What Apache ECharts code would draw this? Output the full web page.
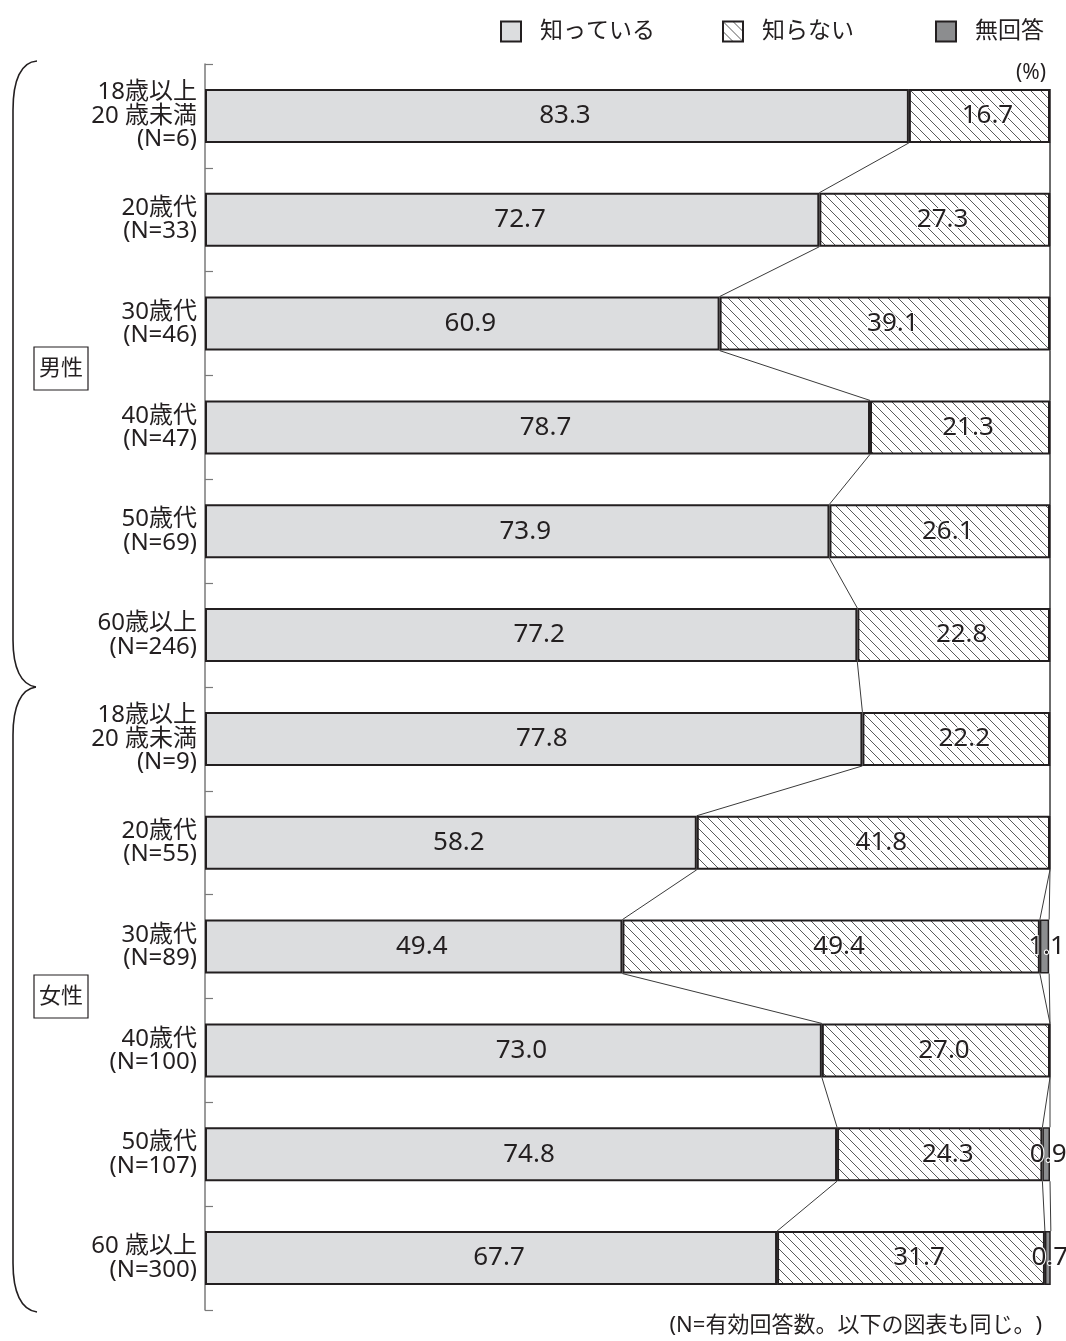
<!DOCTYPE html>
<html>
<head>
<meta charset="utf-8">
<script src="https://cdn.jsdelivr.net/npm/echarts@6/dist/echarts.min.js"></script>
<style>
html,body{margin:0;padding:0;background:#fff;}
#chart{width:1066px;height:1341px;}
</style>
</head>
<body>
<div id="chart"></div>
<script>
// Row labels (top to bottom): men then women by age group
const categories = [
  '18歳以上\n20 歳未満\n(N=6)',
  '20歳代\n(N=33)',
  '30歳代\n(N=46)',
  '40歳代\n(N=47)',
  '50歳代\n(N=69)',
  '60歳以上\n(N=246)',
  '18歳以上\n20 歳未満\n(N=9)',
  '20歳代\n(N=55)',
  '30歳代\n(N=89)',
  '40歳代\n(N=100)',
  '50歳代\n(N=107)',
  '60 歳以上\n(N=300)'
];
const seriesNames = ['知っている', '知らない', '無回答'];
const known   = [83.3, 72.7, 60.9, 78.7, 73.9, 77.2, 77.8, 58.2, 49.4, 73.0, 74.8, 67.7];
const unknown = [16.7, 27.3, 39.1, 21.3, 26.1, 22.8, 22.2, 41.8, 49.4, 27.0, 24.3, 31.7];
const noAns   = [0, 0, 0, 0, 0, 0, 0, 0, 1.1, 0, 0.9, 0.7];

const INK = '#231f20';
const FONT = '"Noto Sans", "Noto Sans CJK JP", sans-serif';

// diagonal hatch tile for the 知らない segments
function hatchTile() {
  const s = 10;
  const c = document.createElement('canvas');
  c.width = s; c.height = s;
  const g = c.getContext('2d');
  g.fillStyle = '#ffffff';
  g.fillRect(0, 0, s, s);
  g.strokeStyle = '#5a5a5a';
  g.lineWidth = 1;
  for (const k of [-s, 0, s]) {
    g.beginPath();
    g.moveTo(k, 0);
    g.lineTo(k + s, s);
    g.stroke();
  }
  return c;
}

// cumulative boundaries per row for the connector lines
const cum = categories.map((_, i) => [
  known[i],
  known[i] + unknown[i],
  known[i] + unknown[i] + noAns[i]
]);

const BAR_RATIO = 0.52;
const chart = echarts.init(document.getElementById('chart'));

const valueLabel = (extra) => Object.assign({
  show: true,
  position: 'inside',
  color: INK,
  fontSize: 26,
  fontFamily: FONT,
  offset: [8, 0],
  formatter: p => (p.value > 0 ? Number(p.value).toFixed(1) : '')
}, extra || {});

// left braces grouping the two sexes
const braceStyle = { fill: 'none', stroke: INK, lineWidth: 1.6 };
const brace = [
  { type: 'bezierCurve', shape: { x1: 37, y1: 61, cpx1: 21, cpy1: 62, cpx2: 13, cpy2: 80, x2: 13, y2: 110 } },
  { type: 'line', shape: { x1: 13, y1: 110, x2: 13, y2: 640 } },
  { type: 'bezierCurve', shape: { x1: 13, y1: 640, cpx1: 13, cpy1: 668, cpx2: 21, cpy2: 685, x2: 36, y2: 687 } },
  { type: 'bezierCurve', shape: { x1: 36, y1: 687, cpx1: 21, cpy1: 689, cpx2: 13, cpy2: 706, x2: 13, y2: 735 } },
  { type: 'line', shape: { x1: 13, y1: 735, x2: 13, y2: 1263 } },
  { type: 'bezierCurve', shape: { x1: 13, y1: 1263, cpx1: 13, cpy1: 1292, cpx2: 21, cpy2: 1310, x2: 37, y2: 1312 } }
].map(e => Object.assign(e, { style: braceStyle }));

const option = {
  animation: false,
  backgroundColor: '#ffffff',
  textStyle: { fontFamily: FONT },
  legend: [
    { name: seriesNames[0], left: 500 },
    { name: seriesNames[1], left: 722 },
    { name: seriesNames[2], left: 935 }
  ].map(l => ({
    data: [l.name],
    left: l.left,
    top: 20,
    itemWidth: 20,
    itemHeight: 20,
    padding: 0,
    selectedMode: false,
    icon: 'rect',
    textStyle: { color: INK, fontSize: 23, fontFamily: FONT, padding: [0, 0, 0, 14] }
  })),
  grid: { left: 205, right: 16, top: 64, bottom: 31, containLabel: false },
  xAxis: {
    type: 'value', min: 0, max: 100,
    show: false
  },
  yAxis: {
    type: 'category',
    data: categories,
    inverse: true,
    axisLine: { show: true, lineStyle: { color: '#7a7a7a', width: 1.5 } },
    axisTick: { show: true, inside: true, length: 8, lineStyle: { color: '#7a7a7a', width: 1.2 } },
    axisLabel: {
      color: INK, fontSize: 24, lineHeight: 23.5, fontFamily: FONT,
      margin: 8, align: 'right'
    },
    splitLine: { show: false }
  },
  series: [
    {
      name: seriesNames[0], type: 'bar', stack: 'all', barWidth: (BAR_RATIO * 100) + '%',
      data: known,
      itemStyle: { color: '#dcdddf', borderColor: INK, borderWidth: 2 },
      label: valueLabel()
    },
    {
      name: seriesNames[1], type: 'bar', stack: 'all',
      data: unknown,
      itemStyle: { color: { image: hatchTile(), repeat: 'repeat' }, borderColor: INK, borderWidth: 2 },
      label: valueLabel({ textBorderColor: '#ffffff', textBorderWidth: 2 })
    },
    {
      name: seriesNames[2], type: 'bar', stack: 'all',
      data: noAns,
      itemStyle: { color: '#8c8d8f', borderColor: INK, borderWidth: 1.5 },
      label: valueLabel({ textBorderColor: '#ffffff', textBorderWidth: 2, offset: [2, 0] }),
      z: 3
    },
    {
      // thin lines joining segment boundaries of neighbouring bars
      type: 'custom',
      data: categories.slice(0, -1).map((_, i) => [i]),
      encode: { y: 0 },
      z: 1,
      silent: true,
      renderItem: function (params, api) {
        const i = api.value(0);
        const half = api.size([0, 1])[1] * BAR_RATIO / 2;
        const children = [0, 1, 2].map(b => {
          const p1 = api.coord([cum[i][b], i]);
          const p2 = api.coord([cum[i + 1][b], i + 1]);
          return {
            type: 'line',
            shape: { x1: p1[0], y1: p1[1] + half, x2: p2[0], y2: p2[1] - half },
            style: { stroke: '#3a3a3a', lineWidth: 1 }
          };
        });
        return { type: 'group', children: children };
      }
    }
  ],
  graphic: brace.concat([
    {
      type: 'rect', shape: { x: 34, y: 347, width: 54, height: 43 },
      style: { fill: '#fff', stroke: INK, lineWidth: 1.2 }
    },
    {
      type: 'text', x: 61, y: 369,
      style: { text: '男性', fill: INK, font: '22px ' + FONT, textAlign: 'center', textVerticalAlign: 'middle' }
    },
    {
      type: 'rect', shape: { x: 34, y: 975, width: 54, height: 43 },
      style: { fill: '#fff', stroke: INK, lineWidth: 1.2 }
    },
    {
      type: 'text', x: 61, y: 997,
      style: { text: '女性', fill: INK, font: '22px ' + FONT, textAlign: 'center', textVerticalAlign: 'middle' }
    },
    {
      type: 'text', x: 1046, y: 73,
      style: { text: '(%)', fill: INK, font: '21px ' + FONT, textAlign: 'right', textVerticalAlign: 'middle' }
    },
    {
      type: 'text', x: 1042, y: 1326,
      style: { text: '(N=有効回答数。以下の図表も同じ。)', fill: INK, font: '22px ' + FONT, textAlign: 'right', textVerticalAlign: 'middle' }
    }
  ])
};
chart.setOption(option);
</script>
</body>
</html>
